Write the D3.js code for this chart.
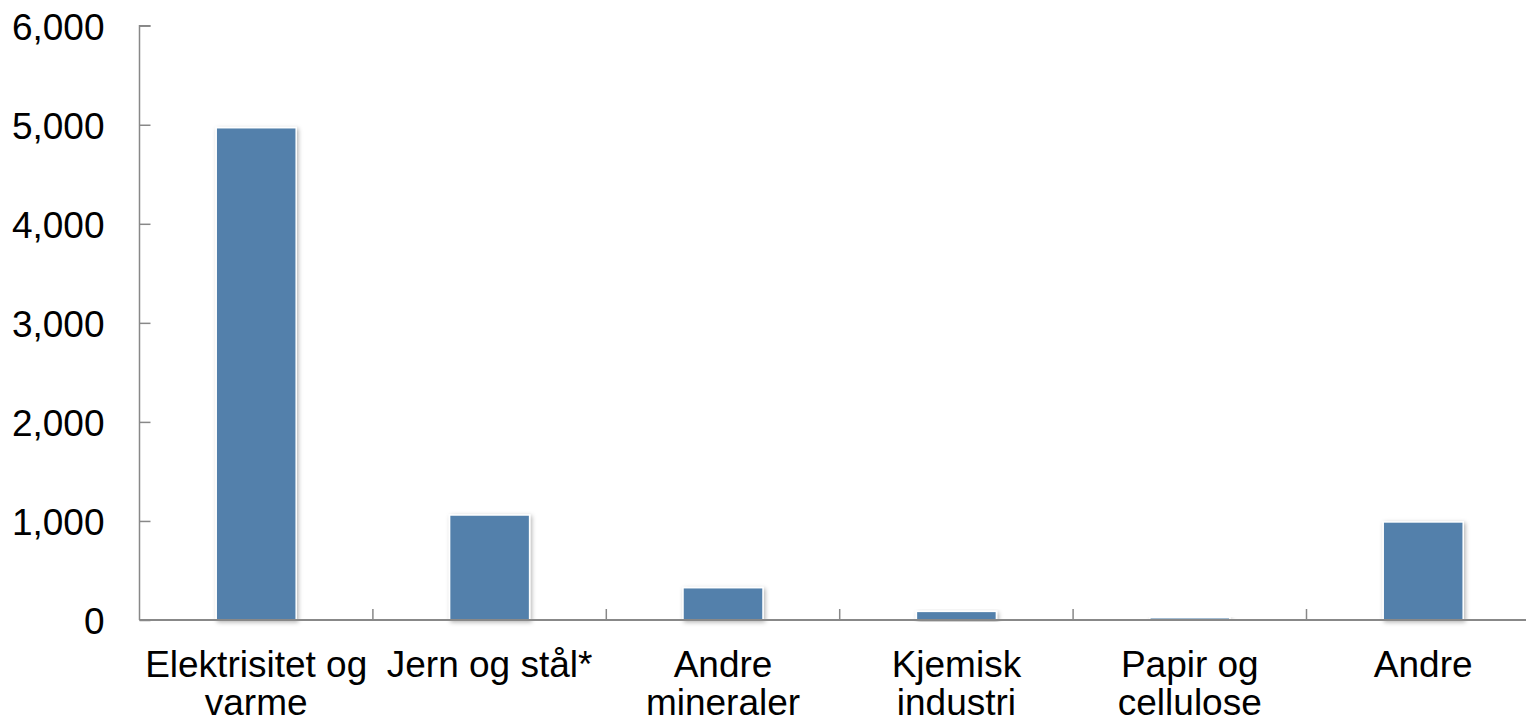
<!DOCTYPE html>
<html>
<head>
<meta charset="utf-8">
<script src="https://cdn.jsdelivr.net/npm/d3@7"></script>
<style>
  html, body { margin: 0; padding: 0; background: #fff; }
  svg text { font-family: "Liberation Sans", Arial, sans-serif; fill: #000; }
</style>
</head>
<body>
<svg id="chart" width="1526" height="723"></svg>
<script>
const categories = ["Elektrisitet og varme", "Jern og stål*", "Andre mineraler", "Kjemisk industri", "Papir og cellulose", "Andre"];
const labelLines = [["Elektrisitet og", "varme"], ["Jern og stål*"], ["Andre", "mineraler"], ["Kjemisk", "industri"], ["Papir og", "cellulose"], ["Andre"]];
const values = [4970, 1060, 326, 87, 23, 990];
const yTicks = [0, 1000, 2000, 3000, 4000, 5000, 6000];

const svg = d3.select("#chart");
const x0 = 139.5, bandW = 233.4;
const x = d3.scaleBand().domain(categories).range([x0, x0 + bandW * categories.length]).paddingInner(0).paddingOuter(0);
const y = d3.scaleLinear().domain([0, 6000]).range([620, 25.7]);

const defs = svg.append("defs");
const f = defs.append("filter").attr("id", "shadow").attr("x", "-20%").attr("y", "-20%").attr("width", "140%").attr("height", "140%");
f.append("feDropShadow").attr("dx", 1.5).attr("dy", 1.5).attr("stdDeviation", 2).attr("flood-color", "#000").attr("flood-opacity", 0.3);

const barW = 80;
svg.append("g").selectAll("rect").data(values).join("rect")
  .attr("x", (d, i) => x(categories[i]) + x.bandwidth() / 2 - barW / 2)
  .attr("y", d => y(d))
  .attr("width", barW)
  .attr("height", d => y(0) - y(d))
  .attr("fill", "#5280ab")
  .attr("stroke", "#ffffff")
  .attr("stroke-width", 1.5)
  .attr("filter", "url(#shadow)");

// Y axis
const yAxis = svg.append("g").attr("transform", `translate(${x0},0)`)
  .call(d3.axisRight(y).tickValues(yTicks).tickSize(11).tickFormat(d3.format(",")));
yAxis.select(".domain").attr("stroke", "#888").attr("stroke-width", 1.5).attr("d", `M11,${y(6000)}H0V${y(0)}`);
yAxis.selectAll(".tick line").attr("stroke", "#888").attr("stroke-width", 1.5);
yAxis.selectAll(".tick text").attr("x", -35).attr("text-anchor", "end").attr("dy", "0.36em")
  .style("font-size", "37px").style("font-family", "Liberation Sans, Arial, sans-serif").attr("fill", "#000");

// X axis
const bounds = d3.range(categories.length + 1).map(i => x0 + i * bandW);
const xAxis = svg.append("g");
xAxis.append("line").attr("x1", x0).attr("x2", 1526).attr("y1", y(0)).attr("y2", y(0)).attr("stroke", "#888").attr("stroke-width", 2);
xAxis.selectAll("line.tk").data(bounds.slice(1)).join("line").attr("class", "tk")
  .attr("x1", d => d).attr("x2", d => d).attr("y1", y(0)).attr("y2", y(0) - 11)
  .attr("stroke", "#888").attr("stroke-width", 1.5);

const lbl = svg.append("g").selectAll("text").data(labelLines).join("text")
  .attr("text-anchor", "middle")
  .style("font-size", "37px")
  .attr("x", (d, i) => x(categories[i]) + x.bandwidth() / 2)
  .attr("y", 677);
lbl.selectAll("tspan").data(d => d).join("tspan")
  .attr("x", function() { return d3.select(this.parentNode).attr("x"); })
  .attr("dy", (d, i) => i === 0 ? 0 : 38)
  .text(d => d);
</script>
</body>
</html>
